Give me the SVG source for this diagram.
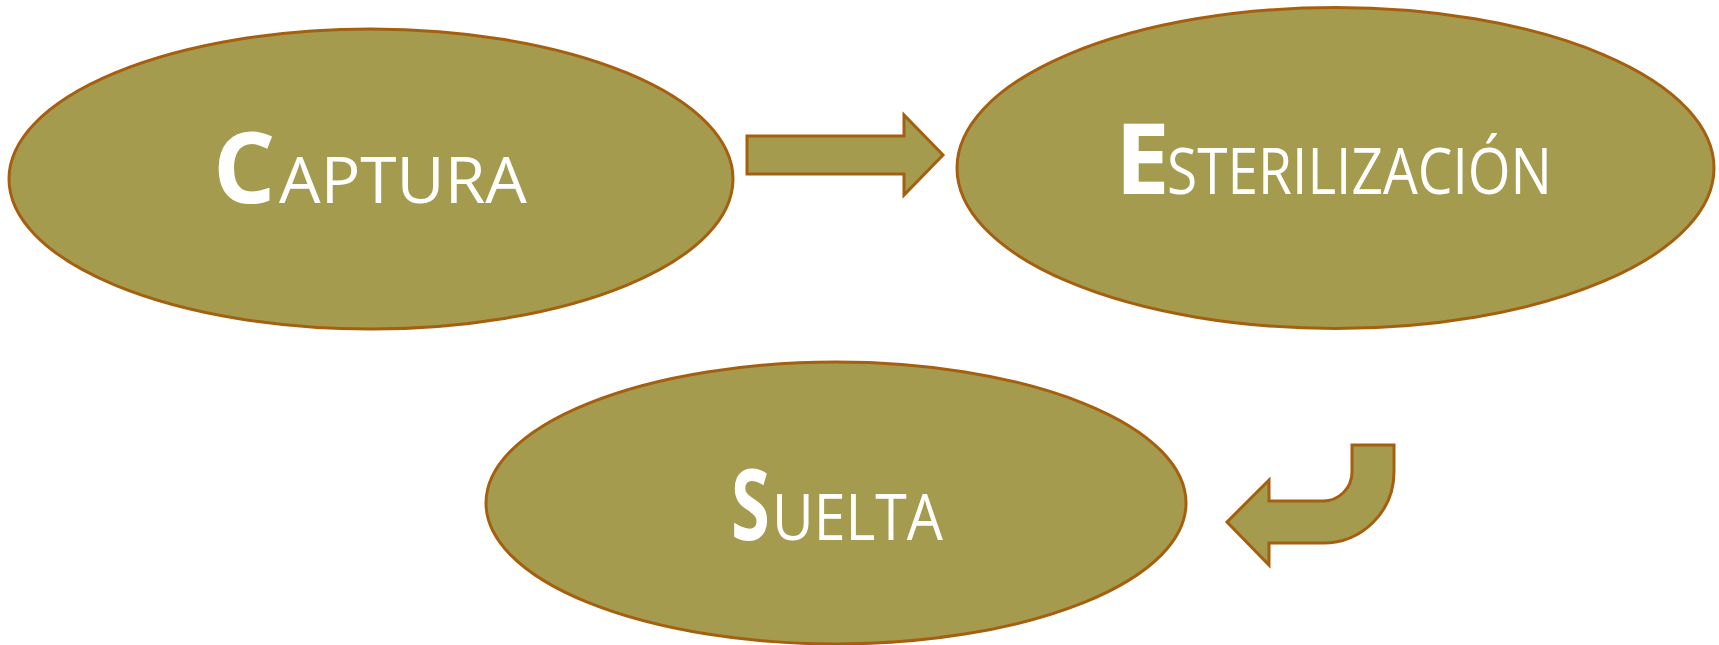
<svg xmlns="http://www.w3.org/2000/svg" width="1719" height="645" viewBox="0 0 1719 645">
<style>
.n{fill:#A59B4F;stroke:#A5600F;stroke-width:3}
.a{fill:#A59B4F;stroke:#A5600F;stroke-width:3;stroke-linejoin:miter}
.t{font-family:"Open Sans","Liberation Sans",sans-serif;fill:#FFFFFF;font-size:64px}
.b{font-family:"Open Sans","Liberation Sans",sans-serif;fill:#FFFFFF;font-weight:bold;font-size:98px}
</style>
<rect width="1719" height="645" fill="#FFFFFF"/>
<g id="connectors">
<path class="a" d="M747,136 H904 V115 L943,155 L904,195 V174 H747 Z"/>
<path class="a" d="M1352,445 V472 A29,29 0 0 1 1323,501 H1269 V480 L1227,522 L1269,565 V543 H1323 A71,71 0 0 0 1394,472 V445 Z"/>
</g>
<g id="captura">
<ellipse class="n" cx="371" cy="179" rx="362" ry="150"/>
<text class="b" x="213" y="203">C</text>
<text class="t" x="279" y="203" textLength="248" lengthAdjust="spacingAndGlyphs">APTURA</text>
</g>
<g id="esterilizacion">
<ellipse class="n" cx="1335.5" cy="168" rx="378.5" ry="160.5"/>
<text class="b" x="1115" y="194">E</text>
<text class="t" x="1167" y="194" textLength="385" lengthAdjust="spacingAndGlyphs">STERILIZACIÓN</text>
</g>
<g id="suelta">
<ellipse class="n" cx="836" cy="503" rx="350" ry="141"/>
<text class="b" transform="translate(731,540) scale(0.72,1)" x="0" y="0">S</text>
<text class="t" x="772" y="540" textLength="171" lengthAdjust="spacingAndGlyphs">UELTA</text>
</g>
</svg>
